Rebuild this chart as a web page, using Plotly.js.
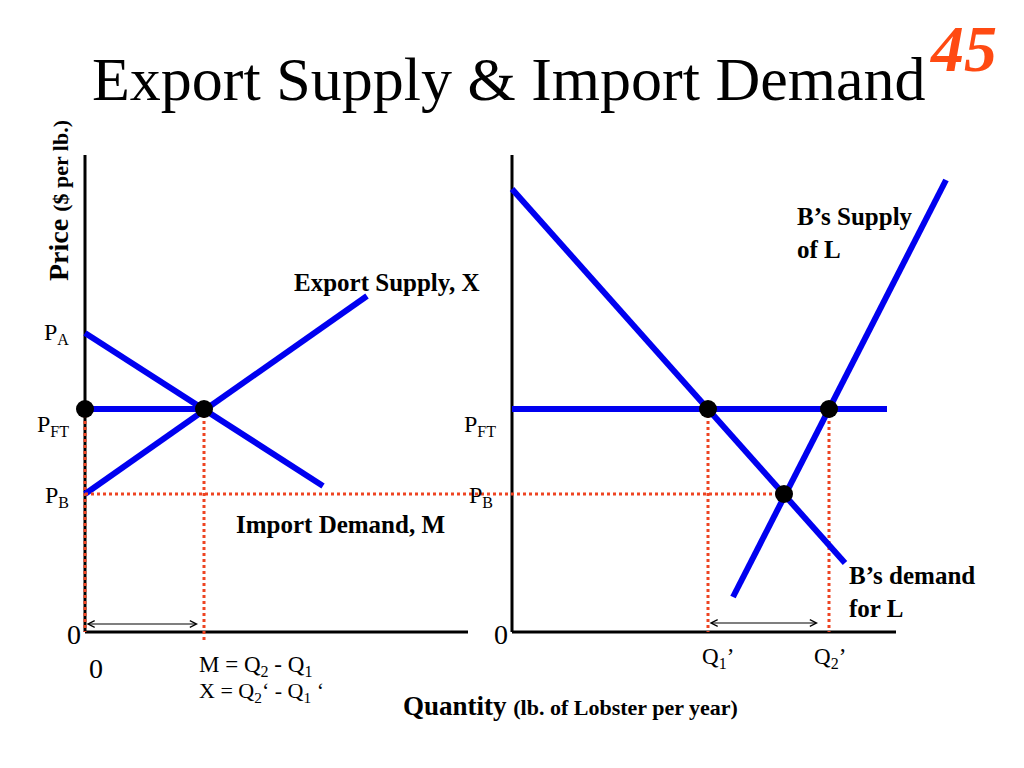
<!DOCTYPE html>
<html>
<head>
<meta charset="utf-8">
<script src="https://cdn.plot.ly/plotly-3.0.1.min.js"></script>
<style>html,body{margin:0;padding:0;background:#fff;}#chart{width:1024px;height:768px;}</style>
</head>
<body>
<div id="chart"></div>
<script>
// ---- Data (quantity / price units) ----
// Prices
var PA = 29.9, PFT = 22.3, PB = 13.8;

// Left panel (home market): export supply & import demand
var exportSupplyQ = [0, 28.2];
var exportSupplyP = [13.8, 33.6];
var importDemandQ = [0, 23.8];
var importDemandP = [29.9, 14.6];
var leftPftQ = [0, 11.9];
var leftPftP = [22.3, 22.3];
var leftDotsQ = [0, 11.9];
var leftDotsP = [22.3, 22.3];

// Right panel (country B): supply & demand for lobster
var bDemandQ = [0, 33.3];
var bDemandP = [44.3, 6.9];
var bSupplyQ = [22.1, 43.4];
var bSupplyP = [3.5, 45.2];
var rightPftQ = [0, 37.5];
var rightPftP = [22.3, 22.3];
var rightDotsQ = [19.6, 31.7, 27.2];
var rightDotsP = [22.3, 22.3, 13.8];
var Q1p = 19.6, Q2p = 31.7, QB = 27.2;
var M = 11.9;

// Axis extents
var leftAxisQmax = 38.3, rightAxisQmax = 38.4, axisPmax = 47.7;
var panelOffset = 42.7; // left origin measured in right-panel units (negative)

// ---- Helpers for paper coordinates ----
function px(x){return x/1024;}
function py(y){return 1 - y/768;}

var BLUE = '#0000f0', RED = '#ee4422';
var serif = 'Liberation Serif, Times New Roman, serif';

var traces = [];
function line(xs, ys, xa, color, width, dash){
  traces.push({x: xs, y: ys, xaxis: xa, yaxis: 'y', mode: 'lines',
    line: {color: color, width: width, dash: dash || 'solid'}, hoverinfo: 'skip', showlegend: false});
}
// axes (black)
line([0,0],[0,axisPmax],'x','#000',3);
line([0,leftAxisQmax],[0,0],'x','#000',3);
line([0,0],[0,axisPmax],'x2','#000',3);
line([0,rightAxisQmax],[0,0],'x2','#000',3);
// dotted guides
line([0,0],[PFT,0],'x',RED,3,'dot');
line([M,M],[PFT,-0.8],'x',RED,3,'dot');
line([-panelOffset,QB],[PB,PB],'x2',RED,3,'dot');
line([Q1p,Q1p],[PFT,0],'x2',RED,3,'dot');
line([Q2p,Q2p],[PFT,0],'x2',RED,3,'dot');
// blue curves
line(exportSupplyQ, exportSupplyP,'x',BLUE,6);
line(importDemandQ, importDemandP,'x',BLUE,6);
line(leftPftQ, leftPftP,'x',BLUE,6);
line(bDemandQ, bDemandP,'x2',BLUE,6);
line(bSupplyQ, bSupplyP,'x2',BLUE,6);
line(rightPftQ, rightPftP,'x2',BLUE,6);
// dots
traces.push({x: leftDotsQ, y: leftDotsP, xaxis:'x', yaxis:'y', mode:'markers',
  marker:{color:'#000', size:18}, hoverinfo:'skip', showlegend:false});
traces.push({x: rightDotsQ, y: rightDotsP, xaxis:'x2', yaxis:'y', mode:'markers',
  marker:{color:'#000', size:18}, hoverinfo:'skip', showlegend:false});

function txt(text, x, y, size, opts){
  var a = {text: text, xref:'paper', yref:'paper', x: px(x), y: py(y), showarrow:false,
    font:{family: serif, size: size, color:'#000'}, xanchor:'center', yanchor:'middle'};
  for (var k in (opts||{})) a[k] = opts[k];
  return a;
}
var SUB = function(s){ return '<sub><span style="font-size:16px">' + s + '</span></sub>'; };

var annotations = [
  txt('P' + SUB('A'), 56, 333, 24),
  txt('P' + SUB('FT'), 53, 425, 24),
  txt('P' + SUB('B'), 57, 496, 24),
  txt('P' + SUB('FT'), 480, 425, 24),
  txt('P' + SUB('B'), 481, 496, 24),
  txt('0', 74, 634, 28),
  txt('0', 501, 634, 28),
  txt('0', 96, 668, 28),
  txt('M = Q<sub>2</sub> - Q<sub>1</sub>', 197, 666, 23, {xanchor:'left'}),
  txt('X = Q<sub>2</sub>\u2018 - Q<sub>1</sub> \u2018', 197, 692, 22, {xanchor:'left'}),
  txt('Q' + SUB('1') + '\u2019', 718, 658, 23),
  txt('Q' + SUB('2') + '\u2019', 830, 658, 23),
  txt('<b>Export Supply, X</b>', 292, 282, 25, {xanchor:'left'}),
  txt('<b>Import Demand, M</b>', 234, 524, 25, {xanchor:'left'}),
  txt('<b>B\u2019s Supply<br>of L</b>', 795, 233, 25, {xanchor:'left', align:'left'}),
  txt('<b>B\u2019s demand<br>for L</b>', 847, 592, 25, {xanchor:'left', align:'left'}),
  txt('<b>Price <span style="font-size:22px">($ per lb.)</span></b>', 58, 201, 28, {textangle:-90}),
  txt('<b>Quantity <span style="font-size:22px">(lb. of Lobster per year)</span></b>', 570, 706, 27),
  txt('<b><i>45</i></b>', 963, 48, 66, {font:{family: serif, size: 66, color:'#ff4a12'}}),
  // double-headed arrows
  {x: M - 0.6, y: 0.8, ax: 0, ay: 0.8, xref:'x', yref:'y', axref:'x', ayref:'y', text:'',
   showarrow:true, arrowside:'end+start', arrowhead:5, startarrowhead:5, arrowsize:1.1, startarrowsize:1.1,
   arrowwidth:1.2, arrowcolor:'#000'},
  {x: Q2p - 1.1, y: 0.9, ax: Q1p, ay: 0.9, xref:'x2', yref:'y', axref:'x2', ayref:'y', text:'',
   showarrow:true, arrowside:'end+start', arrowhead:5, startarrowhead:5, arrowsize:1.1, startarrowsize:1.1,
   arrowwidth:1.2, arrowcolor:'#000'}
];

var layout = {
  width: 1024, height: 768,
  margin: {l:0, r:0, t:0, b:0},
  paper_bgcolor: '#fff', plot_bgcolor: '#fff',
  showlegend: false,
  title: {text: 'Export Supply &amp; Import Demand', x: px(92), xanchor:'left', xref:'paper',
    y: py(78), yanchor:'middle', yref:'container',
    font: {family: serif, size: 62, color:'#000'}},
  xaxis: {domain:[0,1], range:[-8.5, 93.9], visible:false, fixedrange:true},
  xaxis2: {domain:[0,1], range:[-51.2, 51.2], overlaying:'x', visible:false, fixedrange:true},
  yaxis: {domain:[0,1], range:[-13.6, 63.2], visible:false, fixedrange:true},
  annotations: annotations
};

Plotly.newPlot('chart', traces, layout, {staticPlot:true, displayModeBar:false});
</script>
</body>
</html>
